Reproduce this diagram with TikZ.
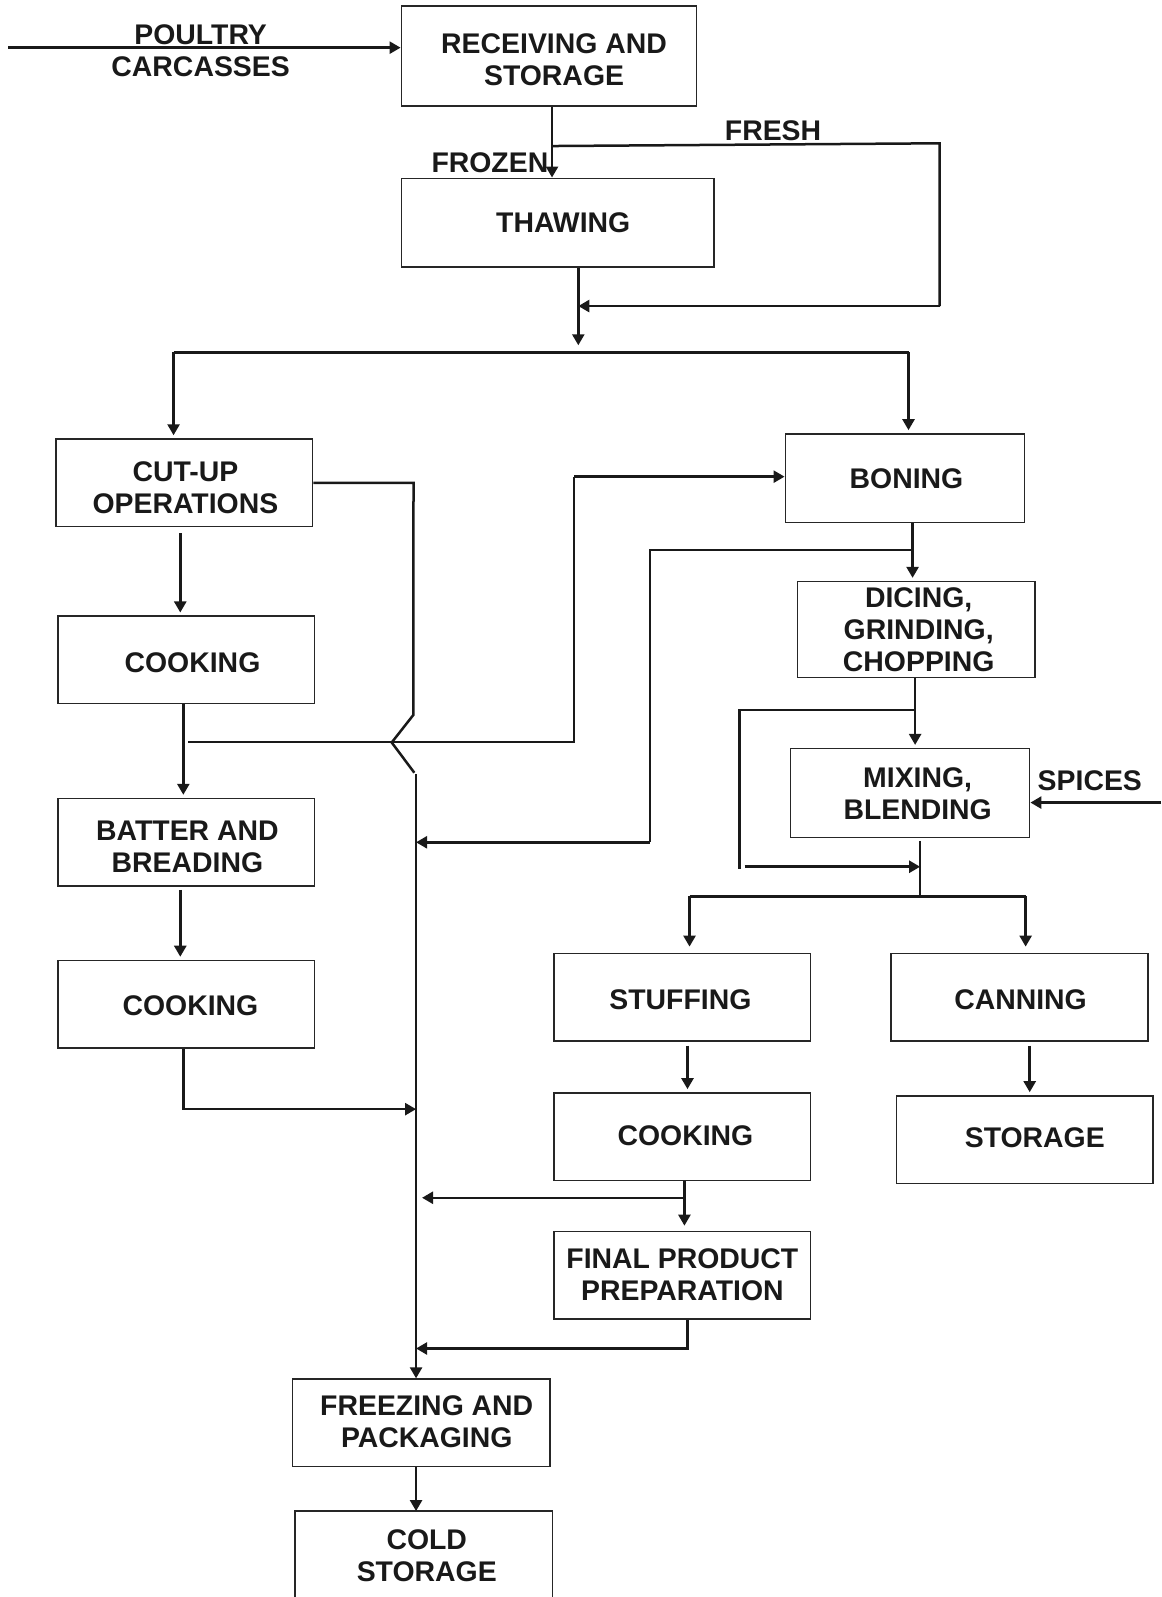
\documentclass[tikz,border=0pt]{standalone}
\usepackage{fontspec}
\setmainfont{Liberation Sans}
\usetikzlibrary{arrows.meta,fit}
\begin{document}
\begin{tikzpicture}[x=0.5092pt,y=-0.5092pt,
  box/.style={draw=black!85, line width=0.7pt, inner sep=0pt},
  lbl/.style={font=\fontsize{14.2}{16}\selectfont\bfseries, align=center, inner sep=0pt, text=black!90},
  conn/.style={line width=1.25pt, draw=black!90},
  arr/.style={conn, -{Triangle[length=5.5pt,width=6pt]}},
  sarr/.style={arr, shorten >=1.5pt},
]
\useasboundingbox (0,0) rectangle (1140,1568);

% boxes
\node[box, fit={(394,6) (684,104)}] (recv) {};
\node[box, fit={(394,175) (701,262)}] (thaw) {};
\node[box, fit={(55,431) (307,517)}] (cut) {};
\node[box, fit={(57,605) (309,691)}] (cook1) {};
\node[box, fit={(57,784) (309,870)}] (batter) {};
\node[box, fit={(57,943) (309,1029)}] (cook2) {};
\node[box, fit={(771,426) (1006,513)}] (bon) {};
\node[box, fit={(783,571) (1016,665)}] (dice) {};
\node[box, fit={(776,735) (1011,822)}] (mix) {};
\node[box, fit={(544,936) (796,1022)}] (stuff) {};
\node[box, fit={(875,936) (1127,1022)}] (can) {};
\node[box, fit={(544,1073) (796,1159)}] (cook3) {};
\node[box, fit={(880,1076) (1132,1162)}] (stor) {};
\node[box, fit={(544,1209) (796,1295)}] (final) {};
\node[box, fit={(287,1354) (540,1440)}] (freeze) {};
\node[inner sep=0pt, fit={(290,1484) (542,1575)}] (cold) {};
\draw[draw=black!85, line width=0.7pt] (cold.south west) -- (cold.north west) -- (cold.north east) -- (cold.south east);

% texts
\node[lbl] (recv-t) at (544,58.6) {RECEIVING AND\\STORAGE};
\node[lbl] (thaw-t) at (553,219) {THAWING};
\node[lbl] (cut-t) at (182,479) {CUT-UP\\OPERATIONS};
\node[lbl] (cook1-t) at (189,651) {COOKING};
\node[lbl] (batter-t) at (184,831) {BATTER AND\\BREADING};
\node[lbl] (cook2-t) at (187,987) {COOKING};
\node[lbl] (bon-t) at (890,470) {BONING};
\node[lbl] (dice-t) at (902,618) {DICING,\\GRINDING,\\CHOPPING};
\node[lbl] (mix-t) at (901,779) {MIXING,\\BLENDING};
\node[lbl] (stuff-t) at (668,982) {STUFFING};
\node[lbl] (can-t) at (1002,982) {CANNING};
\node[lbl] (cook3-t) at (673,1115) {COOKING};
\node[lbl] (stor-t) at (1016,1117) {STORAGE};
\node[lbl] (final-t) at (670,1252) {FINAL PRODUCT\\PREPARATION};
\node[lbl] (freeze-t) at (419,1396) {FREEZING AND\\PACKAGING};
\node[lbl] (cold-t) at (419,1527) {COLD\\STORAGE};
\node[lbl] (frozen) at (481,160) {FROZEN};
\node[lbl] (fresh) at (759,128.8) {FRESH};
\node[lbl] (spices) at (1070,767) {SPICES};
\node[lbl] (poultry) at (197,50) {POULTRY\\CARCASSES};

% coordinates
\coordinate (src) at (8,46.8);
\coordinate (jf) at (542,143.4);
\coordinate (fr) at (922.5,140.7);
\coordinate (frb) at (922.5,300.5);
\coordinate (mrg) at (567.8,300.5);
\coordinate (splitA) at (567.8,339);
\coordinate (hl) at (170.4,346);
\coordinate (hr) at (892,346);
\coordinate (c1) at (406,474);
\coordinate (jmpA) at (405.8,702);
\coordinate (jmpB) at (384.6,729);
\coordinate (jmpC) at (406.8,758.7);
\coordinate (mainTop) at (408.5,760);
\coordinate (k1) at (185,728.6);
\coordinate (k2) at (563.6,728.6);
\coordinate (k3) at (563.6,468);
\coordinate (a1) at (177,0);
\coordinate (a2) at (180,0);
\coordinate (k4) at (180,1089);
\coordinate (b1) at (896,540);
\coordinate (b2) at (638,540);
\coordinate (b3) at (638,827);
\coordinate (d1) at (898.5,697);
\coordinate (d2) at (726,697);
\coordinate (d3) at (726,853);
\coordinate (d4) at (731,851);
\coordinate (m1) at (903.4,851);
\coordinate (m2) at (903.4,880);
\coordinate (s1) at (677,880);
\coordinate (s2) at (1007,880);
\coordinate (sp) at (1140,788);
\coordinate (t1) at (675,0);
\coordinate (t2) at (1011,0);
\coordinate (f1) at (672,1176);
\coordinate (f2) at (675,1324);
\coordinate (fz) at (408.5,0);

% connectors
\draw[arr] (src) -- (recv.west |- src);
\draw[arr] (recv.south -| jf) -- (thaw.north -| jf);
\draw[conn] (jf) -- (fr) -- (frb);
\draw[arr] (frb) -- (mrg);
\draw[arr] (thaw.south -| splitA) -- (splitA);
\draw[conn] (hl) -- (hr);
\draw[sarr] (hl) -- (cut.north -| hl);
\draw[sarr] (hr) -- (bon.north -| hr);

\draw[conn] (cut.east |- c1) -- (c1) -- (jmpA) -- (jmpB) -- (jmpC);
\draw[arr] (mainTop) -- (freeze.north -| mainTop);
\draw[conn] (k1) -- (k2) -- (k3);
\draw[arr] (k3) -- (bon.west |- k3);

\draw[sarr, shorten <=3pt] (cut.south -| a1) -- (cook1.north -| a1);
\draw[sarr] (cook1.south -| a2) -- (batter.north -| a2);
\draw[sarr, shorten <=1.5pt] (batter.south -| a1) -- (cook2.north -| a1);
\draw[arr] (cook2.south -| k4) -- (k4) -- (mainTop |- k4);

\draw[sarr] (bon.south -| b1) -- (dice.north -| b1);
\draw[conn] (b1) -- (b2) -- (b3);
\draw[arr] (b3) -- (mainTop |- b3);
\draw[sarr] (dice.south -| d1) -- (mix.north -| d1);
\draw[conn] (d1) -- (d2) -- (d3);
\draw[arr] (d4) -- (m1);
\draw[conn, shorten <=1.5pt] (mix.south -| m1) -- (m2);
\draw[conn] (s1) -- (s2);
\draw[arr, shorten >=3pt] (s1) -- (stuff.north -| s1);
\draw[arr, shorten >=3pt] (s2) -- (can.north -| s2);
\draw[arr] (sp) -- (mix.east |- sp);

\draw[sarr, shorten <=2pt] (stuff.south -| t1) -- (cook3.north -| t1);
\draw[sarr, shorten <=2pt] (can.south -| t2) -- (stor.north -| t2);
\draw[arr, shorten >=2.5pt] (cook3.south -| f1) -- (final.north -| f1);
\draw[arr, shorten >=3pt] (f1) -- (mainTop |- f1);
\draw[arr] (final.south -| f2) -- (f2) -- (mainTop |- f2);
\draw[arr] (freeze.south -| fz) -- (cold.north -| fz);
\end{tikzpicture}
\end{document}
